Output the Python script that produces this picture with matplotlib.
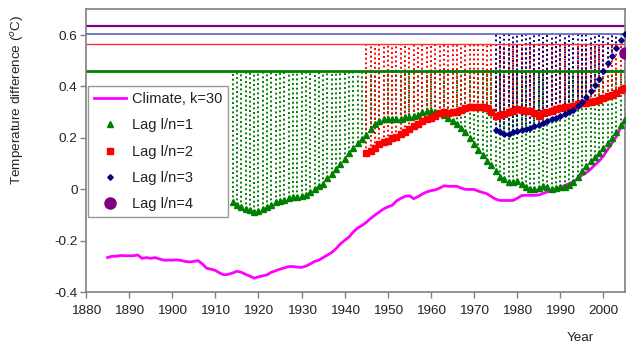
import numpy as np
import matplotlib
matplotlib.use("Agg")
import matplotlib.pyplot as plt

plt.rcParams['font.family'] = ['Liberation Sans', 'DejaVu Sans']

# 30-year smoothed climate signal
climate_years = list(range(1885, 2006))
climate = [
    -0.265, -0.26, -0.26, -0.257, -0.258, -0.258, -0.258, -0.255, -0.268, -0.265,
    -0.268, -0.265, -0.27, -0.275, -0.275, -0.275, -0.274, -0.276, -0.28, -0.282,
    -0.28, -0.277, -0.29, -0.307, -0.31, -0.315, -0.325, -0.332, -0.33, -0.325,
    -0.318, -0.322, -0.33, -0.337, -0.345, -0.34, -0.336, -0.332, -0.322, -0.316,
    -0.31, -0.305, -0.3, -0.3, -0.302, -0.303, -0.298, -0.29, -0.28, -0.275,
    -0.265, -0.255, -0.245, -0.23, -0.212, -0.198, -0.185, -0.165, -0.15, -0.14,
    -0.128, -0.113, -0.1, -0.088, -0.076, -0.068, -0.062, -0.045, -0.035, -0.027,
    -0.025, -0.036, -0.028, -0.018, -0.01, -0.005, -0.002, 0.005, 0.014, 0.012,
    0.012, 0.012, 0.005, 0.0, 0.0, 0.0, -0.007, -0.012, -0.017, -0.028,
    -0.038, -0.043, -0.043, -0.043, -0.043, -0.035, -0.024, -0.023, -0.023, -0.023,
    -0.022, -0.015, -0.01, -0.005, 0.0, 0.008, 0.015, 0.022, 0.03, 0.04,
    0.055, 0.065, 0.078, 0.095, 0.11, 0.13, 0.155, 0.18, 0.205, 0.24, 0.275,
]

# Lag l/n = 1
lag1_years = list(range(1914, 2006))
lag1 = [
    -0.05, -0.06, -0.07, -0.075, -0.082, -0.088, -0.085, -0.075, -0.068, -0.06,
    -0.05, -0.045, -0.04, -0.035, -0.03, -0.028, -0.025, -0.02, -0.01, 0.0,
    0.015, 0.02, 0.045, 0.06, 0.08, 0.1, 0.12, 0.14, 0.16, 0.18,
    0.195, 0.21, 0.235, 0.255, 0.265, 0.272, 0.274, 0.275, 0.272, 0.275,
    0.28, 0.282, 0.285, 0.29, 0.3, 0.305, 0.305, 0.3, 0.298, 0.29,
    0.278, 0.265, 0.255, 0.24, 0.222, 0.2, 0.175, 0.155, 0.132, 0.11,
    0.093, 0.07, 0.05, 0.04, 0.03, 0.028, 0.032, 0.02, 0.01, 0.003,
    0.0, 0.005, 0.012, 0.008, 0.003, 0.005, 0.008, 0.01, 0.018, 0.03,
    0.05, 0.07, 0.09, 0.11, 0.125, 0.14, 0.16, 0.18, 0.2, 0.225,
    0.25, 0.27,
]

# Lag l/n = 2
lag2_years = list(range(1945, 2006))
lag2 = [
    0.14, 0.15, 0.16, 0.175, 0.185, 0.19, 0.2, 0.205, 0.215, 0.225,
    0.235, 0.245, 0.255, 0.265, 0.272, 0.278, 0.285, 0.295, 0.3, 0.298,
    0.3, 0.302, 0.31, 0.318, 0.32, 0.321, 0.322, 0.322, 0.318, 0.3,
    0.287, 0.29, 0.293, 0.3, 0.305, 0.312, 0.31, 0.306, 0.305, 0.295,
    0.287, 0.295, 0.302, 0.306, 0.312, 0.318, 0.32, 0.322, 0.326, 0.332,
    0.334, 0.337, 0.34, 0.343, 0.348, 0.355, 0.362, 0.368, 0.375, 0.385,
    0.396,
]

# Lag l/n = 3
lag3_years = list(range(1975, 2006))
lag3 = [
    0.232, 0.222, 0.215, 0.215, 0.222, 0.228, 0.232, 0.236, 0.24, 0.245,
    0.252, 0.258, 0.265, 0.272, 0.278, 0.284, 0.292, 0.3, 0.31, 0.325,
    0.34, 0.36, 0.383, 0.405, 0.43, 0.46, 0.49, 0.52, 0.55, 0.58, 0.605,
]

# Lag l/n = 4
lag4_years = [2005]
lag4 = [0.532]

# Threshold levels for each lag
thresholds = {"lag1": 0.462, "lag2": 0.566, "lag3": 0.605, "lag4": 0.635}

x_ticks = list(range(1880, 2001, 10))
y_ticks = [-0.4, -0.2, 0.0, 0.2, 0.4, 0.6]
y_tick_labels = ["-0.4", "-0.2", "0", "0.2", "0.4", "0.6"]

GREEN = "#008000"
RED = "#ff0000"
NAVY = "#000080"
PURPLE = "#800080"
MAGENTA = "#ff00ff"

fig = plt.figure(figsize=(6.26, 3.47), dpi=100)
ax = fig.add_axes([86 / 626, 1 - 292.3 / 347, 539 / 626, (292.3 - 9.3) / 347])

dots = (0, (1.0, 1.4))
ax.vlines(lag1_years, lag1, thresholds["lag1"], colors=GREEN, linestyles=dots, lw=1.4, zorder=1)
ax.vlines(lag2_years, lag2, thresholds["lag2"], colors=RED, linestyles=dots, lw=1.4, zorder=1.1)
ax.vlines(lag3_years, lag3, thresholds["lag3"], colors=NAVY, linestyles=dots, lw=1.4, zorder=1.2)

ax.axhline(thresholds["lag1"], color=GREEN, lw=2.0, zorder=2)
ax.axhline(thresholds["lag2"], color="#ff3030", lw=1.0, zorder=2)
ax.axhline(thresholds["lag3"], color="#6060c0", lw=1.2, zorder=2)
ax.axhline(thresholds["lag4"], color=PURPLE, lw=1.6, zorder=2)

ax.plot(climate_years, climate, color=MAGENTA, lw=2.0, zorder=3, label="Climate, k=30")
ax.plot(lag1_years, lag1, ls="none", marker="^", ms=3.8, color=GREEN, mec=GREEN, zorder=4, label="Lag l/n=1")
ax.plot(lag2_years, lag2, ls="none", marker="s", ms=3.8, color=RED, mec=RED, zorder=4, label="Lag l/n=2")
ax.plot(lag3_years, lag3, ls="none", marker="D", ms=2.8, color=NAVY, mec=NAVY, zorder=5, label="Lag l/n=3")
ax.plot(lag4_years, lag4, ls="none", marker="o", ms=8, color=PURPLE, mec=PURPLE, zorder=6, label="Lag l/n=4",
        clip_on=False)

ax.set_xlim(1880, 2005)
ax.set_ylim(-0.4, 0.7)
ax.set_xticks(x_ticks)
ax.set_xticklabels([str(x) for x in x_ticks])
ax.set_yticks(y_ticks)
ax.set_yticklabels(y_tick_labels)
ax.tick_params(axis="both", direction="out", length=4, width=1, color="#808080",
               labelsize=9.7, labelcolor="#222222")
ax.tick_params(axis="x", pad=5)
ax.tick_params(axis="y", pad=2)
for sp in ax.spines.values():
    sp.set_color("#808080")
    sp.set_linewidth(1.2)

leg = ax.legend(loc="upper left", bbox_to_anchor=(0.004, 0.729), borderaxespad=0,
                fontsize=10.5, frameon=True, fancybox=False, edgecolor="#808080",
                handlelength=2.2, handletextpad=0.4, labelspacing=0.85, borderpad=0.4)
leg.get_frame().set_linewidth(1.0)
for t in leg.get_texts():
    t.set_color("#222222")

fig.text(18 / 626, 1 - 100 / 347, "Temperature difference ($^{o}$C)", rotation=90,
         ha="center", va="center", fontsize=9.7, color="#222222")
fig.text(580 / 626, 1 - 338 / 347, "Year", ha="center", va="center", fontsize=9.7, color="#222222")

fig.savefig("out.png", dpi=100)
